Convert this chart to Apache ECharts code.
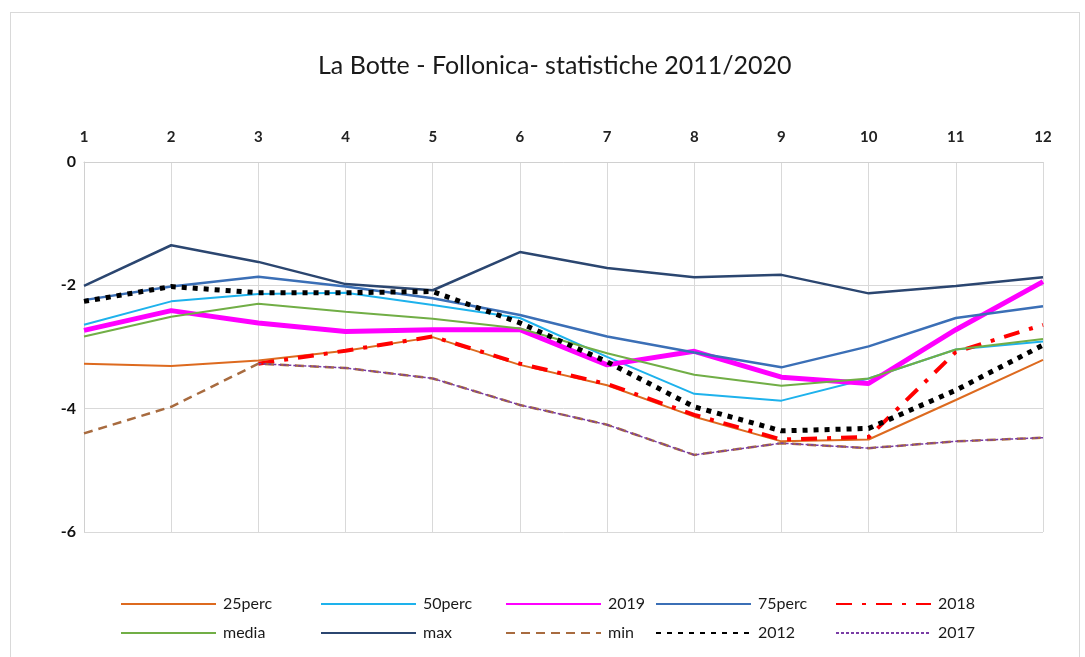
<!DOCTYPE html>
<html><head><meta charset="utf-8">
<script src="https://cdn.jsdelivr.net/npm/echarts@6/dist/echarts.min.js"></script>
<style>
html,body{margin:0;padding:0;background:#fff;}
#frame{position:absolute;left:10px;top:12px;width:1070px;height:660px;border:1px solid #d9d9d9;box-sizing:border-box;}
#chart{position:absolute;left:0;top:0;width:1085px;height:657px;}
</style></head>
<body><div id="frame"></div><div id="chart"></div>
<script>
const months = ['1','2','3','4','5','6','7','8','9','10','11','12'];
const yTicks = [0, -2, -4, -6];
const p25   = [-3.27,-3.31,-3.22,-3.06,-2.84,-3.29,-3.62,-4.13,-4.53,-4.50,-3.86,-3.21];
const p50   = [-2.64,-2.26,-2.14,-2.12,-2.32,-2.53,-3.16,-3.76,-3.87,-3.51,-3.04,-2.91];
const y2019 = [-2.73,-2.41,-2.61,-2.75,-2.72,-2.72,-3.29,-3.07,-3.49,-3.59,-2.72,-1.94];
const p75   = [-2.24,-2.02,-1.86,-2.02,-2.21,-2.48,-2.83,-3.09,-3.33,-2.99,-2.53,-2.34];
const y2018 = [null,null,-3.27,-3.06,-2.83,-3.27,-3.60,-4.10,-4.50,-4.46,-3.08,-2.64];
const media = [-2.83,-2.51,-2.30,-2.43,-2.54,-2.70,-3.10,-3.45,-3.63,-3.51,-3.04,-2.87];
const maxv  = [-2.01,-1.35,-1.62,-1.98,-2.08,-1.46,-1.72,-1.87,-1.83,-2.13,-2.01,-1.87];
const minv  = [-4.40,-3.97,-3.27,-3.34,-3.51,-3.94,-4.26,-4.75,-4.56,-4.64,-4.53,-4.47];
const y2012 = [-2.26,-2.02,-2.12,-2.12,-2.10,-2.61,-3.24,-3.97,-4.36,-4.32,-3.70,-2.97];
const y2017 = [null,null,-3.27,-3.34,-3.51,-3.94,-4.26,-4.75,-4.56,-4.64,-4.53,-4.47];

const FONT = 'Lato, "Open Sans", sans-serif';
const seriesDefs = [
  {name:'25perc', data:p25,   color:'#DD6A1F', width:2,   type:'solid'},
  {name:'50perc', data:p50,   color:'#1EB2EC', width:2,   type:'solid'},
  {name:'2019',   data:y2019, color:'#FF00FF', width:5,   type:'solid'},
  {name:'75perc', data:p75,   color:'#3B6FB6', width:2.5, type:'solid'},
  {name:'2018',   data:y2018, color:'#FF0000', width:4,   type:[16,10,4,10]},
  {name:'media',  data:media, color:'#71AE46', width:2,   type:'solid'},
  {name:'max',    data:maxv,  color:'#2B4670', width:2.5, type:'solid'},
  {name:'min',    data:minv,  color:'#A86B3F', width:2.5, type:[9,6]},
  {name:'2012',   data:y2012, color:'#000000', width:5,   type:[5,6]},
  {name:'2017',   data:y2017, color:'#7A3DA6', width:1.5, type:[3,2]}
];
// legend slot positions [left, top]
const legendPos = {
  '25perc':[120,596], '50perc':[320,596], '2019':[505,596], '75perc':[655,596], '2018':[835,596],
  'media':[120,625],  'max':[320,625],    'min':[505,625],  '2012':[655,625],   '2017':[835,625]
};

const chart = echarts.init(document.getElementById('chart'), null, {renderer:'canvas'});
const option = {
  animation:false,
  backgroundColor:'transparent',
  title:{text:'La Botte - Follonica- statistiche 2011/2020', left:313, top:48,
    textStyle:{fontFamily:FONT, fontSize:25, fontWeight:'normal', color:'#1a1a1a'}},
  grid:{left:84, right:42, top:162, bottom:125},
  xAxis:{type:'category', data:months, position:'top', boundaryGap:false,
    axisLine:{show:true, lineStyle:{color:'#d0d0d0'}}, axisTick:{show:false},
    axisLabel:{fontFamily:FONT, fontSize:15, fontWeight:'bold', color:'#222', margin:17},
    splitLine:{show:true, lineStyle:{color:'#d9d9d9', width:1}}},
  yAxis:{type:'value', min:-6, max:0, interval:2,
    axisLine:{show:true, lineStyle:{color:'#d0d0d0'}}, axisTick:{show:false},
    axisLabel:{fontFamily:FONT, fontSize:16, fontWeight:'bold', color:'#111', margin:8,
      formatter: v => yTicks.includes(v) ? String(v) : ''},
    splitLine:{show:true, lineStyle:{color:'#d9d9d9', width:1}}},
  legend: seriesDefs.map(s => ({
    data:[s.name], left:legendPos[s.name][0], top:legendPos[s.name][1],
    itemWidth:95, itemHeight:14, itemGap:0, padding:0,
    itemStyle:{opacity:0},
    textStyle:{fontFamily:FONT, fontSize:16, color:'#1a1a1a', padding:[0,0,0,2]}
  })),
  series: seriesDefs.map(s => ({
    name:s.name, type:'line', data:s.data, showSymbol:false, symbol:'none',
    connectNulls:false,
    lineStyle:{color:s.color, width:s.width, type:s.type},
    itemStyle:{color:s.color}
  }))
};
chart.setOption(option);
</script></body></html>
